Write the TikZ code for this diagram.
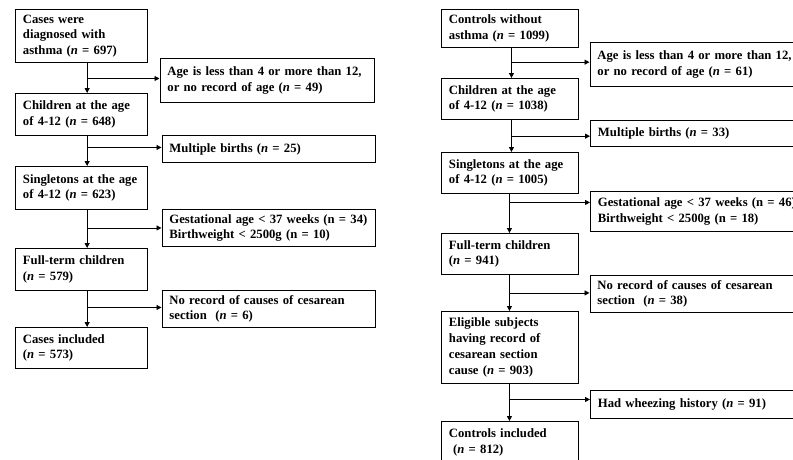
\documentclass[tikz,border=0pt]{standalone}
\usepackage{fontspec}
\setmainfont{Liberation Serif}[WordSpace=0.85]
\usetikzlibrary{arrows.meta}
\newcommand\keepline[1]{\mbox{#1}}
\tikzset{
  box/.style={draw, line width=0.9pt, anchor=north west, align=left,
    inner xsep=7.5pt, inner ysep=0pt,
    font=\bfseries\fontsize{12.7}{15.7}\selectfont},
  conn/.style={line width=0.9pt, -{Triangle[length=5pt,width=5pt]}},
}
\begin{document}
\begin{tikzpicture}[x=1pt,y=-1pt]
\useasboundingbox (0,0) rectangle (793,459);
\clip (0,0) rectangle (793,459);
% ---------- left column ----------
\node[box, text width=117pt, minimum height=53pt] (L1) at (15,9) {Cases were\\diagnosed with\\asthma (\textit{n} = 697)};
\node[box, text width=117pt, minimum height=42pt] (L2) at (15,93) {\keepline{Children at the age}\\\keepline{of 4-12 (\textit{n} = 648)}};
\node[box, text width=117pt, minimum height=43pt] (L3) at (15,166) {\keepline{Singletons at the age}\\\keepline{of 4-12 (\textit{n} = 623)}};
\node[box, text width=117pt, minimum height=42pt] (L4) at (15,248) {Full-term children\\(\textit{n} = 579)};
\node[box, text width=117pt, minimum height=41pt] (L5) at (15,327) {Cases included\\(\textit{n} = 573)};
\node[box, text width=199pt, minimum height=43.5pt] (LE1) at (159.5,58.3) {\keepline{Age is less than 4 or more than 12,}\\\keepline{or no record of age (\textit{n} = 49)}};
\node[box, text width=198pt, minimum height=27pt] (LE2) at (161.5,135) {Multiple births (\textit{n} = 25)};
\node[box, text width=198pt, minimum height=37pt] (LE3) at (161.5,209) {\keepline{Gestational age < 37 weeks (n = 34)}\\\keepline{Birthweight < 2500g (n = 10)}};
\node[box, text width=198pt, minimum height=37pt] (LE4) at (161.5,290) {\keepline{No record of causes of cesarean}\\section\ \ (\textit{n} = 6)};
\coordinate (t1) at ([xshift=5.7pt]L1.south);
\coordinate (t2) at ([xshift=5.7pt]L2.south);
\coordinate (t3) at ([xshift=5.7pt]L3.south);
\coordinate (t4) at ([xshift=5.7pt]L4.south);
\draw[conn] (t1) -- (t1 |- L2.north);
\draw[conn] (t2) -- (t2 |- L3.north);
\draw[conn] (t3) -- (t3 |- L4.north);
\draw[conn] (t4) -- (t4 |- L5.north);
\draw[conn] ([yshift=2pt]LE1.west -| t1) -- ([yshift=2pt]LE1.west);
\draw[conn] ([yshift=1.5pt]LE2.west -| t2) -- ([yshift=1.5pt]LE2.west);
\draw[conn] (LE3.west -| t3) -- (LE3.west);
\draw[conn] ([yshift=1.5pt]LE4.west -| t4) -- ([yshift=1.5pt]LE4.west);
% ---------- right column ----------
\node[box, text width=122pt, minimum height=38pt] (R1) at (441,9) {Controls without\\\keepline{asthma (\textit{n} = 1099)}};
\node[box, text width=122pt, minimum height=41pt] (R2) at (441,78) {\keepline{Children at the age}\\\keepline{of 4-12 (\textit{n} = 1038)}};
\node[box, text width=122pt, minimum height=41pt] (R3) at (441,152) {\keepline{Singletons at the age}\\\keepline{of 4-12 (\textit{n} = 1005)}};
\node[box, text width=122pt, minimum height=41pt] (R4) at (441,233) {Full-term children\\(\textit{n} = 941)};
\node[box, text width=122pt, minimum height=72pt] (R5) at (441,311) {Eligible subjects\\having record of\\cesarean section\\cause (\textit{n} = 903)};
\node[box, text width=122pt, minimum height=42pt] (R6) at (441,421) {Controls included\\\ (\textit{n} = 812)};
\node[box, text width=205pt, minimum height=44pt] (RE1) at (589.5,42) {\keepline{Age is less than 4 or more than 12,}\\\keepline{or no record of age (\textit{n} = 61)}};
\node[box, text width=205pt, minimum height=26pt] (RE2) at (590,120) {Multiple births (\textit{n} = 33)};
\node[box, text width=205pt, minimum height=40pt] (RE3) at (590,191) {\keepline{Gestational age < 37 weeks (n = 46)}\\\keepline{Birthweight < 2500g (n = 18)}};
\node[box, text width=205pt, minimum height=37pt] (RE4) at (589.5,275) {\keepline{No record of causes of cesarean}\\section\ \ (\textit{n} = 38)};
\node[box, text width=205pt, minimum height=28pt] (RE5) at (590,390) {\keepline{Had wheezing history (\textit{n} = 91)}};
\coordinate (s1) at ([xshift=1.5pt]R1.south);
\coordinate (s2) at ([xshift=1.5pt]R2.south);
\coordinate (s3) at ([xshift=-0.5pt]R3.south);
\coordinate (s4) at ([xshift=-0.5pt]R4.south);
\coordinate (s5) at ([xshift=-0.5pt]R5.south);
\draw[conn] (s1) -- (s1 |- R2.north);
\draw[conn] (s2) -- (s2 |- R3.north);
\draw[conn] (s3) -- (s3 |- R4.north);
\draw[conn] (s4) -- (s4 |- R5.north);
\draw[conn] (s5) -- (s5 |- R6.north);
\draw[conn] ([yshift=2.3pt]RE1.west -| s1) -- ([yshift=2.3pt]RE1.west);
\draw[conn] ([yshift=-2.7pt]RE2.west -| s2) -- ([yshift=-2.7pt]RE2.west);
\draw[conn] ([yshift=9pt]RE3.west -| s3) -- ([yshift=9pt]RE3.west);
\draw[conn] ([yshift=1pt]RE4.west -| s4) -- ([yshift=1pt]RE4.west);
\draw[conn] ([yshift=5pt]RE5.west -| s5) -- ([yshift=5pt]RE5.west);
\end{tikzpicture}
\end{document}
